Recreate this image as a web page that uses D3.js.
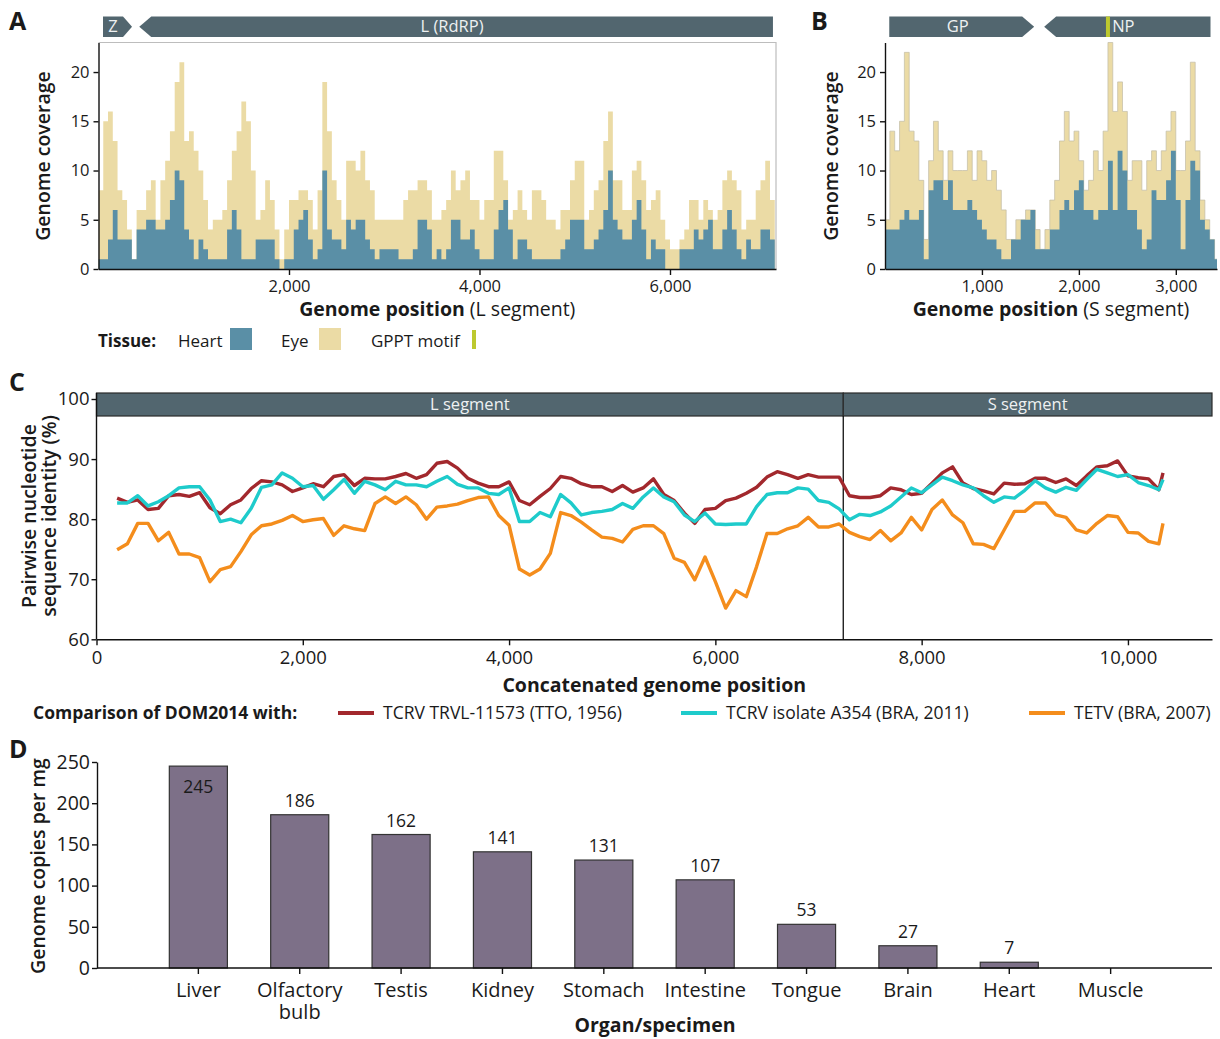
<!DOCTYPE html>
<html><head><meta charset="utf-8">
<script src="https://cdn.jsdelivr.net/npm/d3@7/dist/d3.min.js"></script>
<style>
body{margin:0;background:#fff;}
svg{font-family:"Open Sans","Noto Sans",sans-serif;}
</style></head><body>
<svg id="chart" width="1220" height="1039"></svg>
<script>
// ---------------- DATA ----------------
const binWidth = 50;
const lengthL = 7113;
const lengthS = 3425;
const eyeL = [8,15,16,13,8,7,4,1,6,6, 8,9,5,9,11,14,19,21,13,14, 12,10,7,4,5,5,6,9,12,14, 17,15,10,5,6,9,7,4,1,4,
  7,7,8,8,7,4,8,19,14,9, 7,5,11,11,10,12,9,8,5,5, 5,5,5,5,7,8,8,9,9,8, 5,5,
  6,7,10,8,9,10,7,7,5,7, 7,12,12,9,5,6,8,6,5,8, 8,7,5,5,4,6,6,9,11,11, 5,6,8,9,13,16,9,9,6,6,
  10,11,9,6,7,8,5,3,2,2, 3,4,7,7,5,7,6,5,6,9, 10,9,8,4,5,5,8,9,11,7];
const heartL = [1,1,3,6,3,3,3,1,4,4, 5,5,4,4,5,7,10,9,4,3, 1,3,2,1,1,1,1,4,6,4, 1,1,1,3,3,3,3,1,0,1,
  1,4,5,6,3,1,2,10,4,3, 3,2,5,4,5,5,3,2,1,2, 2,2,2,1,1,1,2,5,5,4, 1,2,
  1,2,5,5,3,3,4,2,1,1, 1,4,6,7,4,1,3,3,2,1, 1,1,1,1,1,2,3,5,5,5, 2,2,3,4,6,10,5,4,3,3,
  5,7,4,1,3,2,2,0,0,0, 2,2,2,4,3,4,5,2,2,4, 6,4,2,1,3,2,2,4,4,3];
const eyeS = [5,14,12,15,22,14,13,9,3,11, 15,12,9,12,10,10,10,12,9,12, 11,9,10,8,6,3,3,5,5,6,
  6,4,2,4,7,9,13,16,13,14, 11,8,9,12,10,14,23,16,19,16, 9,11,11,8,11,12,10,12,14,16,
  10,10,13,21,12,7,5,3,1];
const heartS = [4,4,4,5,6,5,5,6,1,8, 9,9,7,9,6,6,6,7,6,5, 4,3,3,2,1,1,3,3,5,5,
  6,2,2,2,4,4,6,7,6,8, 9,6,6,5,6,6,11,6,12,10, 6,6,4,2,3,8,7,7,9,12,
  7,2,7,11,10,5,4,3,1];
const genesL = [{name:"Z", start:47, end:352, dir:1}, {name:"L (RdRP)", start:428, end:7081, dir:-1}];
const genesS = [{name:"GP", start:44, end:1539, dir:1}, {name:"NP", start:1642, end:3358, dir:-1}];
const gpptPos = 2300;
const coverageTicksY = [0,5,10,15,20];
const ticksXL = [2000,4000,6000];
const ticksXS = [1000,2000,3000];

// Panel C
const concatLength = 10815;
const segmentBoundary = 7240;
const windowPos = d3.range(200, 10301, 100).concat([10340]);
const idTRVL = [83.5,82.8,83.2,81.6,81.8,83.9,84.1,83.8,84.4,81.9, 80.9,82.4,83.2,85.1,86.4,86.2,85.7,84.6,85.2,85.9,
  85.4,87.1,87.4,85.6,86.8,86.7,86.7,87.1,87.6,86.8, 87.4,89.3,89.6,88.5,86.8,86.0,85.4,85.4,86.2,83.1,
  82.4,83.8,85.1,87.1,86.8,85.9,85.4,
  85.4,84.6,85.6,84.5,85.2,86.7,84.1,83.1,81.0,79.3, 81.6,81.8,83.1,83.5,84.3,85.3,87.0,87.9,87.4,86.8,
  87.4,87.0,87.0,87.0,83.9,83.6,83.6,83.9,85.2,84.9, 84.1,84.3,86.0,87.7,88.7,86.0,85.1,84.7,84.2,86.0,
  85.8,85.9,86.8,86.8,86.1,86.7,85.6,87.2,88.7,88.9, 89.7,87.2,86.9,86.7,84.9, 87.7];
const idA354 = [82.7,82.7,83.9,82.2,82.9,83.9,85.2,85.4,85.4,83.2, 79.6,80.0,79.4,81.8,85.3,85.7,87.7,86.8,85.4,85.6,
  83.3,84.9,86.6,84.3,86.3,85.7,84.9,86.3,85.7,85.7, 85.4,86.3,87.1,85.8,85.2,85.2,84.3,84.1,85.2,79.6,
  79.6,81.1,80.4,84.1,82.7,80.7,81.1,
  81.3,81.6,82.6,81.8,83.7,85.2,83.7,82.9,80.7,79.6, 81.0,79.2,79.1,79.2,79.2,82.1,84.1,84.4,84.4,85.2,
  85.0,83.1,82.8,81.7,79.9,80.8,80.6,81.2,82.2,83.7, 85.2,84.4,85.7,87.0,86.4,85.7,85.2,83.9,82.8,83.7,
  83.5,84.8,86.4,85.2,84.5,85.3,84.8,86.6,88.3,87.7, 87.1,87.4,86.1,85.6,84.9, 86.6];
const idTETV = [74.9,75.9,79.3,79.3,76.4,77.8,74.2,74.2,73.6,69.6, 71.6,72.1,74.6,77.4,78.9,79.2,79.8,80.6,79.6,79.9,
  80.1,77.3,78.9,78.4,78.1,82.6,83.7,82.6,83.7,82.4, 80.0,82.0,82.2,82.5,83.1,83.6,83.7,80.6,79.0,71.7,
  70.7,71.7,74.3,81.1,80.6,79.5,78.2,
  77.0,76.8,76.2,78.3,78.9,78.9,77.6,73.5,72.8,69.9, 73.7,69.6,65.2,68.1,67.1,72.1,77.6,77.6,78.4,78.9,
  80.3,78.7,78.7,79.2,77.8,77.1,76.6,78.1,76.4,77.7, 80.3,78.2,81.6,83.2,80.7,79.4,75.9,75.8,75.1,78.2,
  81.3,81.3,82.7,82.7,80.7,80.3,78.2,77.7,79.3,80.6, 80.4,77.8,77.7,76.3,75.9, 79.3];
const seriesNames = ["TCRV TRVL-11573 (TTO, 1956)", "TCRV isolate A354 (BRA, 2011)", "TETV (BRA, 2007)"];
const identityTicksY = [60,70,80,90,100];
const identityTicksX = [0,2000,4000,6000,8000,10000];

// Panel D
const organs = ["Liver","Olfactory bulb","Testis","Kidney","Stomach","Intestine","Tongue","Brain","Heart","Muscle"];
const copies = [245,186,162,141,131,107,53,27,7,0];
const copiesTicks = [0,50,100,150,200,250];

// ---------------- STYLE ----------------
const C = {eye:"#EBDBA5", heart:"#5A8FA6", gene:"#52666F", gppt:"#BDC92F",
  red:"#A2282D", cyan:"#1ECBCB", orange:"#F48D1C", bar:"#7D7088", text:"#1a1a1a"};
const FONT = '"Open Sans","Noto Sans",sans-serif';
const svg = d3.select("#chart");

function styleAxis(g, size){
  g.attr("font-family", FONT).attr("font-size", size);
  g.select(".domain").attr("stroke","#111").attr("stroke-width",1.4);
  g.selectAll(".tick line").attr("stroke","#111").attr("stroke-width",1.4);
  g.selectAll(".tick text").attr("fill",C.text);
}
function label(txt, x, y, opts={}){
  const t = svg.append("text").attr("x",x).attr("y",y).attr("fill",opts.fill||C.text)
    .attr("font-size",opts.size||19).attr("font-weight",opts.weight||400)
    .attr("text-anchor",opts.anchor||"start").text(txt);
  if(opts.rotate) t.attr("transform",`rotate(-90,${x},${y})`);
  return t;
}

// ---------------- PANELS A & B ----------------
function coveragePanel(cfg){
  const x = d3.scaleLinear().domain([0,cfg.length]).range([cfg.left,cfg.right]);
  const y = d3.scaleLinear().domain([0,23]).range([269,42.5]);
  const id = "clip"+cfg.key;
  svg.append("clipPath").attr("id",id).append("rect")
    .attr("x",cfg.left).attr("y",30).attr("width",cfg.right-cfg.left).attr("height",269-30);
  const g = svg.append("g").attr("clip-path",`url(#${id})`);
  const toPts = arr => arr.map((v,i)=>({p:i*binWidth, v})).concat([{p:arr.length*binWidth, v:arr[arr.length-1]}]);
  const area = d3.area().curve(d3.curveStepAfter).x(d=>x(d.p)).y0(y(0)).y1(d=>y(d.v));
  g.append("path").datum(toPts(cfg.eye)).attr("d",area).attr("fill",C.eye)
    .attr("stroke",cfg.eyeStroke||"none").attr("stroke-width",0.7);
  g.append("path").datum(toPts(cfg.heart)).attr("d",area).attr("fill",C.heart);

  if(cfg.frame){
    svg.append("path").attr("d",`M${cfg.left},42.5H${cfg.right}V269`).attr("fill","none")
      .attr("stroke","#bdbdbd").attr("stroke-width",1.2);
  }
  const ax = svg.append("g").attr("transform","translate(0,269)")
    .call(d3.axisBottom(x).tickValues(cfg.ticks).tickFormat(d3.format(",")).tickSize(6).tickPadding(5).tickSizeOuter(0));
  styleAxis(ax,16.5);
  const ay = svg.append("g").attr("transform",`translate(${cfg.left},0)`)
    .call(d3.axisLeft(y).tickValues(coverageTicksY).tickSize(5).tickPadding(4).tickSizeOuter(0));
  styleAxis(ay,16.5);

  // gene arrows
  const top=16.5, bot=37, mid=(top+bot)/2, tip=12;
  cfg.genes.forEach(gn=>{
    const x0=x(gn.start), x1=x(gn.end);
    const t = gn.name.length===1 ? 9 : tip;
    const d = gn.dir>0
      ? `M${x0},${top}H${x1-t}L${x1},${mid}L${x1-t},${bot}H${x0}Z`
      : `M${x0},${mid}L${x0+t},${top}H${x1}V${bot}H${x0+t}Z`;
    svg.append("path").attr("d",d).attr("fill",C.gene);
    const tx = gn.name.length===1 ? (x0+x1-t)/2 : (x0+x1)/2 - 4;
    label(gn.name, tx, mid+5.5, {size:16.5, fill:"#eef1f2", anchor:"middle"});
  });
  if(cfg.gppt!=null){
    svg.append("rect").attr("x",x(cfg.gppt)-2).attr("y",top).attr("width",4).attr("height",bot-top).attr("fill",C.gppt);
  }
  // titles
  label("Genome coverage", cfg.ytitleX, 156, {size:19.5, weight:600, anchor:"middle", rotate:true});
  const tt = svg.append("text").attr("x",(cfg.left+cfg.right)/2 + cfg.titleShift).attr("y",316)
    .attr("text-anchor","middle").attr("font-size",19.5).attr("fill",C.text);
  tt.append("tspan").attr("font-weight",700).text("Genome position ");
  tt.append("tspan").attr("font-weight",400).text(cfg.segLabel);
}
coveragePanel({key:"A", left:98.5, right:776, length:lengthL, eye:eyeL, heart:heartL,
  ticks:ticksXL, genes:genesL, frame:true, ytitleX:50, segLabel:"(L segment)", titleShift:0});
coveragePanel({key:"B", left:885, right:1217, length:lengthS, eye:eyeS, heart:heartS,
  ticks:ticksXS, genes:genesS, gppt:gpptPos, frame:false, ytitleX:838, eyeStroke:"#c2bca6",
  segLabel:"(S segment)", titleShift:0});

// legend A/B
label("Tissue:", 98, 347, {size:17, weight:700});
label("Heart", 178, 347, {size:17});
svg.append("rect").attr("x",230).attr("y",328).attr("width",22).attr("height",22).attr("fill",C.heart);
label("Eye", 281, 347, {size:17});
svg.append("rect").attr("x",319).attr("y",328).attr("width",22).attr("height",22).attr("fill",C.eye);
label("GPPT motif", 371, 347, {size:17});
svg.append("rect").attr("x",472).attr("y",330).attr("width",4).attr("height",19).attr("fill",C.gppt);

// ---------------- PANEL C ----------------
(function(){
  const left=96.5, right=1212, top=393, bottom=639.3;
  const x = d3.scaleLinear().domain([0,concatLength]).range([left,right]);
  const y = d3.scaleLinear().domain([60,101]).range([bottom,top]);
  // strips
  const stripH = 23;
  [["L segment",0,segmentBoundary],["S segment",segmentBoundary,concatLength]].forEach(s=>{
    svg.append("rect").attr("x",x(s[1])).attr("y",top).attr("width",x(s[2])-x(s[1])).attr("height",stripH)
      .attr("fill",C.gene).attr("stroke","#2a2a2a").attr("stroke-width",1.2);
    label(s[0], (x(s[1])+x(s[2]))/2, top+17, {size:16.5, fill:"#eef1f2", anchor:"middle"});
  });
  svg.append("line").attr("x1",x(segmentBoundary)).attr("x2",x(segmentBoundary))
    .attr("y1",top+stripH).attr("y2",bottom).attr("stroke","#111").attr("stroke-width",1.3);
  const line = d3.line().x((d,i)=>x(windowPos[i])).y(d=>y(d));
  [[idTRVL,C.red],[idA354,C.cyan],[idTETV,C.orange]].forEach(([arr,col])=>{
    svg.append("path").datum(arr).attr("d",line).attr("fill","none").attr("stroke",col)
      .attr("stroke-width",3.4).attr("stroke-linejoin","round");
  });
  const ax = svg.append("g").attr("transform",`translate(0,${bottom})`)
    .call(d3.axisBottom(x).tickValues(identityTicksX).tickFormat(d3.format(",")).tickSize(6).tickPadding(6).tickSizeOuter(0));
  styleAxis(ax,18.5);
  const ay = svg.append("g").attr("transform",`translate(${left},0)`)
    .call(d3.axisLeft(y).tickValues(identityTicksY).tickSize(5).tickPadding(2).tickSizeOuter(0));
  styleAxis(ay,18.5);
  ay.select(".domain").attr("d",`M0,${bottom}V${top}`);
  label("Concatenated genome position", (left+right)/2, 692, {size:19.5, weight:700, anchor:"middle"});
  label("Pairwise nucleotide", 36, 516, {size:19.5, weight:600, anchor:"middle", rotate:true});
  label("sequence identity (%)", 56, 516, {size:19.5, weight:600, anchor:"middle", rotate:true});
  // legend
  label("Comparison of DOM2014 with:", 33, 719, {size:17.5, weight:700});
  const lx = [338, 681, 1029];
  [C.red,C.cyan,C.orange].forEach((col,i)=>{
    svg.append("line").attr("x1",lx[i]).attr("x2",lx[i]+36).attr("y1",713).attr("y2",713)
      .attr("stroke",col).attr("stroke-width",4);
    label(seriesNames[i], lx[i]+45, 719, {size:17.5});
  });
})();

// ---------------- PANEL D ----------------
(function(){
  const left=97, right=1212, top=762, bottom=968;
  const step=(right-left)/11;
  const x = d3.scaleBand().domain(organs).range([left+step/2, right-step/2]).paddingInner(0.427).paddingOuter(0.2135);
  const y = d3.scaleLinear().domain([0,250]).range([bottom,top]);
  svg.selectAll("rect.bar").data(copies).enter().append("rect").attr("class","bar")
    .attr("x",(d,i)=>x(organs[i])).attr("width",x.bandwidth())
    .attr("y",d=>y(d)).attr("height",d=>y(0)-y(d))
    .attr("fill",C.bar).attr("stroke",d=>d>0?"#333":"none").attr("stroke-width",1.2);
  svg.selectAll("text.val").data(copies).enter().filter(d=>d>0).append("text").attr("class","val")
    .attr("x",(d,i)=>x(organs[copies.indexOf(d)])+x.bandwidth()/2)
    .attr("y",d=> y(d)-8 < top ? y(d)+27 : y(d)-8)
    .attr("text-anchor","middle").attr("font-size",17.5).attr("fill",C.text).text(d=>d);
  // x axis
  svg.append("line").attr("x1",left).attr("x2",right).attr("y1",bottom).attr("y2",bottom)
    .attr("stroke","#111").attr("stroke-width",1.4);
  const ax = svg.append("g").attr("transform",`translate(0,${bottom})`)
    .call(d3.axisBottom(x).tickSize(6).tickPadding(9).tickSizeOuter(0));
  styleAxis(ax,20);
  ax.select(".domain").remove();
  ax.selectAll(".tick").each(function(d){
    const words = d.split(" ");
    if(words.length>1){
      const tk = d3.select(this);
      const t = tk.select("text").text(words[0]);
      tk.append("text").attr("fill",C.text).attr("y", +t.attr("y") + 22).attr("dy","0.71em").text(words.slice(1).join(" "));
    }
  });
  const ay = svg.append("g").attr("transform",`translate(${left},0)`)
    .call(d3.axisLeft(y).tickValues(copiesTicks).tickSize(5).tickPadding(2).tickSizeOuter(0));
  styleAxis(ay,19.5);
  label("Organ/specimen", 655, 1032, {size:19.5, weight:700, anchor:"middle"});
  label("Genome copies per mg", 45, 866, {size:19.5, weight:600, anchor:"middle", rotate:true});
})();

// panel letters
label("A", 9, 30, {size:25, weight:700});
label("B", 811, 30, {size:25, weight:700});
label("C", 9, 391, {size:25, weight:700});
label("D", 9, 758, {size:25, weight:700});
</script>
</body></html>
